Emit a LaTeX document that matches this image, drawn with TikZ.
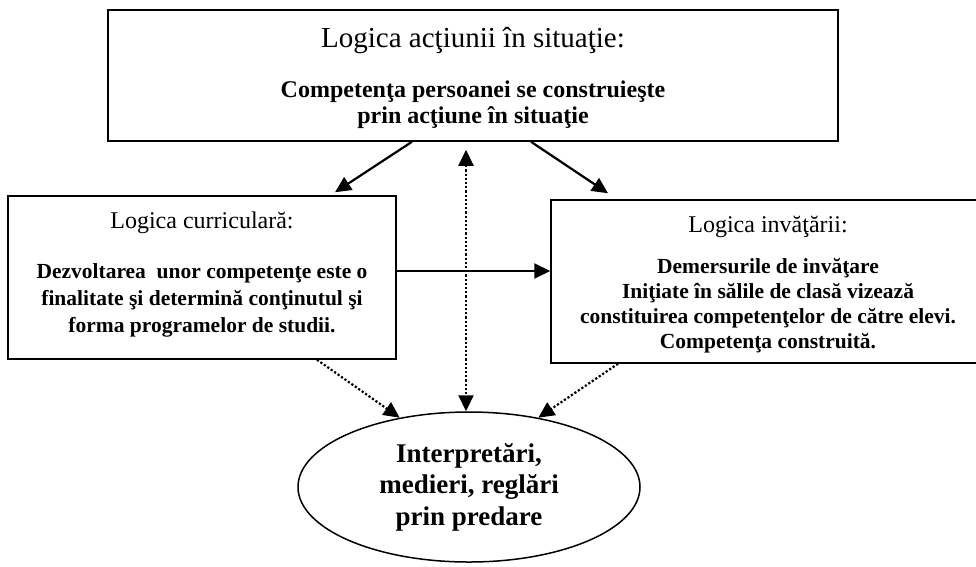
\documentclass[tikz,border=0pt]{standalone}
\usepackage{fontspec}
\setmainfont{Liberation Serif}
\usetikzlibrary{arrows.meta,shapes.geometric}

\tikzset{
  logicbox/.style={draw,line width=1.5pt,inner sep=0pt},
  titletext/.style={anchor=base,font=\fontsize{24}{28}\selectfont},
  bodytext/.style={anchor=base,align=center},
  link/.style={->,line width=2.2pt},
  dotlink/.style={->,line width=2.2pt,dotted}
}

\begin{document}
\begin{tikzpicture}[x=1pt,y=-1pt,>={Triangle[length=16pt,width=15pt]}]
  \useasboundingbox (0,0) rectangle (976,566);

  % boxes
  \node[logicbox,minimum width=730pt,minimum height=131pt] (actiune) at (473,75.5) {};
  \node[logicbox,minimum width=388pt,minimum height=163pt] (curricula) at (202,277.5) {};
  \node[logicbox,minimum width=434pt,minimum height=163pt] (invatare) at (768,281.5) {};
  \node[ellipse,draw,line width=1.5pt,inner sep=0pt,minimum width=342pt,minimum height=150pt,
        align=center,font=\bfseries\fontsize{27}{31.5}\selectfont] (predare) at (469,487)
        {Interpretări,\\medieri, reglări\\prin predare};

  % texts (base = last line)
  \node[titletext,font=\fontsize{29}{34}\selectfont] (actiunetitle) at (473,47) {Logica acţiunii în situaţie:};
  \node[bodytext,font=\bfseries\fontsize{24}{26}\selectfont] (actiunetext) at (473,123)
        {Competenţa persoanei se construieşte\\prin acţiune în situaţie};

  \node[titletext] (curriculatitle) at (202,228) {Logica curriculară:};
  \node[bodytext,font=\bfseries\fontsize{21.5}{27}\selectfont] (curriculatext) at (202,332)
        {Dezvoltarea~ unor competenţe este o\\finalitate şi determină conţinutul şi\\forma programelor de studii.};

  \node[titletext] (invataretitle) at (768,232) {Logica invăţării:};
  \node[bodytext,font=\bfseries\fontsize{21.5}{25}\selectfont] (invataretext) at (768,348)
        {Demersurile de invăţare\\Iniţiate în sălile de clasă vizează\\constituirea competenţelor de către elevi.\\Competenţa construită.};

  % connectors
  \draw[link] ([xshift=-61pt]actiune.south) -- ([xshift=133pt,yshift=3pt]curricula.north);
  \draw[link] ([xshift=58pt]actiune.south) -- ([xshift=-160pt,yshift=6pt]invatare.north);
  \draw[link] ([yshift=6.5pt]curricula.east) -- ([yshift=6.5pt]curricula.east -| invatare.west);
  \draw[dotlink,<->] ([xshift=-7pt,yshift=-8pt]actiune.south) -- ([xshift=-3pt]predare.north);
  \draw[dotlink] ([xshift=115pt]curricula.south) -- (predare.135);
  \draw[dotlink] ([xshift=-150pt]invatare.south) -- (predare.45);
\end{tikzpicture}
\end{document}
